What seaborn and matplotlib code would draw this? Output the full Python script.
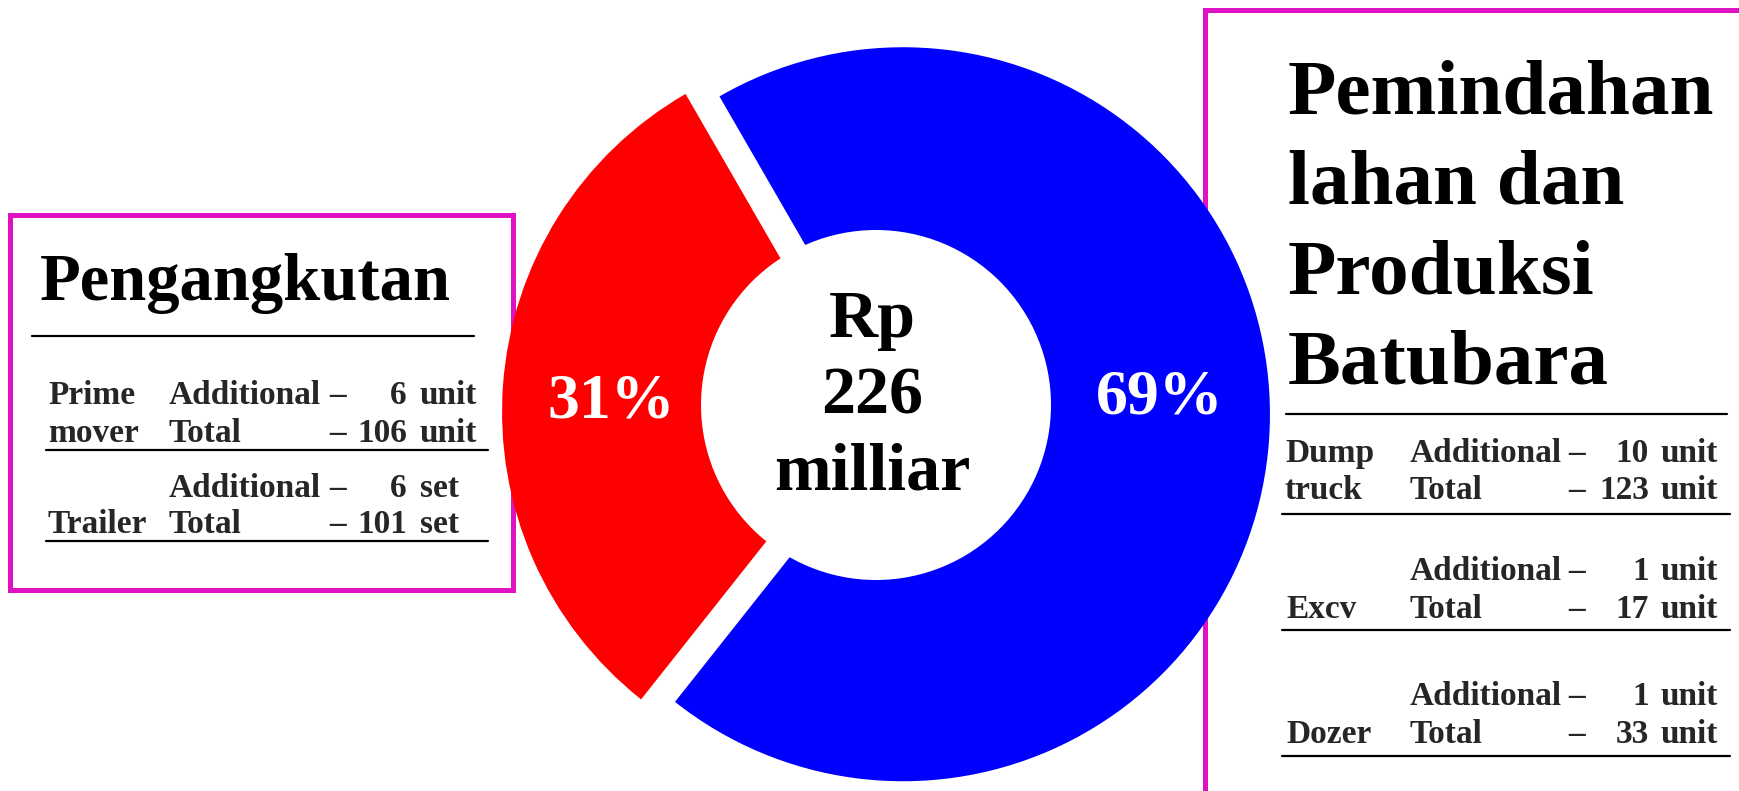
import matplotlib
matplotlib.use("Agg")
import matplotlib.pyplot as plt
from matplotlib.patches import Circle, Rectangle
import seaborn as sns

# ---------------- data ----------------
segments = ["Pengangkutan", "Pemindahan\nlahan dan\nProduksi\nBatubara"]
shares = [31, 69]
seg_colors = ["#FF0000", "#0000FF"]
total_label = ["Rp", "226", "milliar"]

left_names = ["Prime\nmover", "Trailer"]
left_additional = [6, 6]
left_total = [106, 101]
left_units = ["unit", "set"]

right_names = ["Dump\ntruck", "Excv", "Dozer"]
right_additional = [10, 1, 1]
right_total = [123, 17, 33]
right_units = ["unit", "unit", "unit"]

# ---------------- style ----------------
sns.set_theme(style="white")
plt.rcParams["font.family"] = ["Liberation Serif", "DejaVu Serif"]
plt.rcParams["font.weight"] = "bold"

W, H = 1740, 791
fig = plt.figure(figsize=(W / 100, H / 100), dpi=100)
ax = fig.add_axes([0, 0, 1, 1])


def Y(py):
    return H - py


MAG = "#DE12C2"

# ---------------- donut ----------------
R = 367
wedges, _ = ax.pie(shares, colors=seg_colors, startangle=120, counterclock=True,
                   radius=R, center=(886, Y(413)), explode=[17, 17],
                   wedgeprops=dict(linewidth=0, zorder=2))
for w in wedges:
    w.set_zorder(2)
ax.add_patch(Circle((876, Y(405)), 175, facecolor="white", edgecolor="none", zorder=3))

ax.set_xlim(0, W)
ax.set_ylim(0, H)
ax.set_aspect("auto")
ax.axis("off")

# percentages
ax.text(611, Y(418), f"{shares[0]}%", color="white", fontsize=46, fontweight="bold",
        ha="center", va="baseline", zorder=5)
ax.text(1160, Y(413), f"{shares[1]}%", color="white", fontsize=46, fontweight="bold",
        ha="center", va="baseline", zorder=5)

# centre label
for line, by in zip(total_label, [337, 413, 490]):
    ax.text(872, Y(by), line, color="black", fontsize=49, fontweight="bold",
            ha="center", va="baseline", zorder=5)

# ---------------- left box ----------------
ax.add_patch(Rectangle((10, Y(590)), 503, 375, facecolor="none", edgecolor=MAG,
                       linewidth=3.6, zorder=1))
ax.text(40, Y(300), segments[0], fontsize=48, fontweight="bold", ha="left",
        va="baseline", color="black", zorder=5)
ax.plot([32, 474], [Y(336), Y(336)], color="black", linewidth=1.6, zorder=5)

l_add_base = [404, 497]
l_tot_base = [442, 533]
l_line = [450, 541]
FS = 24
for i in range(len(left_names)):
    parts = left_names[i].split("\n")
    if len(parts) == 2:
        ax.text(48, Y(l_add_base[i]), parts[0], fontsize=FS, fontweight="bold", va="baseline", zorder=5)
        ax.text(48, Y(l_tot_base[i]), parts[1], fontsize=FS, fontweight="bold", va="baseline", zorder=5)
    else:
        ax.text(48, Y(l_tot_base[i]), parts[0], fontsize=FS, fontweight="bold", va="baseline", zorder=5)
    for lab, val, by in [("Additional", left_additional[i], l_add_base[i]),
                         ("Total", left_total[i], l_tot_base[i])]:
        ax.text(169, Y(by), lab, fontsize=FS, fontweight="bold", va="baseline", zorder=5)
        ax.text(329, Y(by), "–", fontsize=FS, fontweight="bold", va="baseline", zorder=5)
        ax.text(407, Y(by), str(val), fontsize=FS, fontweight="bold", va="baseline", ha="right", zorder=5)
        ax.text(420, Y(by), left_units[i], fontsize=FS, fontweight="bold", va="baseline", zorder=5)
    ax.plot([46, 488], [Y(l_line[i]), Y(l_line[i])], color="black", linewidth=1.6, zorder=5)

# ---------------- right box ----------------
ax.add_patch(Rectangle((1205, Y(820)), 600, 810, facecolor="none", edgecolor=MAG,
                       linewidth=3.6, zorder=1, clip_on=True))
for line, by in zip(segments[1].split("\n"), [114, 204, 294, 384]):
    ax.text(1288, Y(by), line, fontsize=57, fontweight="bold", ha="left",
            va="baseline", color="black", zorder=5)
ax.plot([1286, 1727], [Y(414), Y(414)], color="black", linewidth=1.6, zorder=5)

r_add_base = [462, 580, 705]
r_tot_base = [499, 618, 743]
r_line = [514, 630, 756]
for i in range(len(right_names)):
    parts = right_names[i].split("\n")
    if len(parts) == 2:
        ax.text(1285, Y(r_add_base[i]), parts[0], fontsize=FS, fontweight="bold", va="baseline", zorder=5)
        ax.text(1285, Y(r_tot_base[i]), parts[1], fontsize=FS, fontweight="bold", va="baseline", zorder=5)
    else:
        ax.text(1286, Y(r_tot_base[i]), parts[0], fontsize=FS, fontweight="bold", va="baseline", zorder=5)
    for lab, val, by in [("Additional", right_additional[i], r_add_base[i]),
                         ("Total", right_total[i], r_tot_base[i])]:
        ax.text(1410, Y(by), lab, fontsize=FS, fontweight="bold", va="baseline", zorder=5)
        ax.text(1568, Y(by), "–", fontsize=FS, fontweight="bold", va="baseline", zorder=5)
        ax.text(1649, Y(by), str(val), fontsize=FS, fontweight="bold", va="baseline", ha="right", zorder=5)
        ax.text(1661, Y(by), right_units[i], fontsize=FS, fontweight="bold", va="baseline", zorder=5)
    ax.plot([1282, 1730], [Y(r_line[i]), Y(r_line[i])], color="black", linewidth=1.6, zorder=5)

fig.savefig("out.png", dpi=100, facecolor="white")
